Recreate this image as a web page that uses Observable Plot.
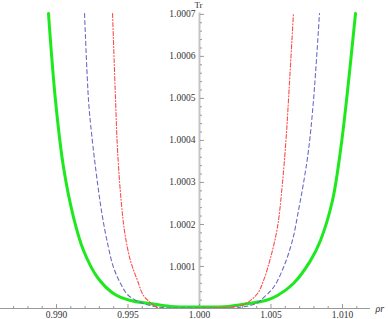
<!DOCTYPE html>
<html>
<head>
<meta charset="utf-8">
<script src="https://cdn.jsdelivr.net/npm/d3@7"></script>
<script src="https://cdn.jsdelivr.net/npm/@observablehq/plot@0.6"></script>
<style>
  html, body { margin: 0; padding: 0; background: white; }
</style>
</head>
<body>
<div id="chart"></div>
<script>
// ---- data ----
const greenRho = [0.98944, 0.98993, 0.99049, 0.99119, 0.99189, 0.99287, 0.99399, 0.99517, 0.99657, 0.99797, 1.0000, 1.00203, 1.00343, 1.00462, 1.00545, 1.00657, 1.00776, 1.00846, 1.00930, 1.00986, 1.01028, 1.01091];
const greenTr  = [1.000702, 1.000495, 1.000336, 1.000217, 1.000138, 1.0000738, 1.0000357, 1.000019, 1.000012, 1.000005, 1.0000035, 1.000005, 1.000012, 1.000019, 1.000031, 1.0000595, 1.000114, 1.000162, 1.000257, 1.000376, 1.000495, 1.000702];

const blueRho = [0.99196, 0.99224, 0.99245, 0.99287, 0.99322, 0.99357, 0.99399, 0.99448, 0.99503, 0.99608, 0.9972, 1.0000, 1.0029, 1.00406, 1.00448, 1.00517, 1.00587, 1.00650, 1.00692, 1.00727, 1.00762, 1.00797, 1.00839];
const blueTr  = [1.000702, 1.000495, 1.000417, 1.000298, 1.000217, 1.000155, 1.0000976, 1.0000595, 1.000031, 1.000012, 1.000003, 1.000001, 1.000003, 1.000014, 1.000026, 1.00005, 1.0000976, 1.000162, 1.000233, 1.000298, 1.000376, 1.000495, 1.000702];

const redRho = [0.99392, 0.99413, 0.99427, 0.99452, 0.99478, 0.99517, 0.99566, 0.99608, 0.99657, 0.99706, 1.0000, 1.00287, 1.00336, 1.00406, 1.00448, 1.00497, 1.00545, 1.00580, 1.00608, 1.00622, 1.00657];
const redTr  = [1.000702, 1.000495, 1.000376, 1.000257, 1.000179, 1.000114, 1.0000667, 1.000031, 1.000014, 1.0000024, 1.0000005, 1.000007, 1.000014, 1.0000357, 1.0000667, 1.000121, 1.000193, 1.000298, 1.000417, 1.000495, 1.000702];

const xMajorTicks = [0.990, 0.995, 1.000, 1.005, 1.010];
const xMinorTicks = [0.987, 0.988, 0.989, 0.991, 0.992, 0.993, 0.994, 0.996, 0.997, 0.998, 0.999, 1.001, 1.002, 1.003, 1.004, 1.006, 1.007, 1.008, 1.009, 1.011];
const yMajorTicks = [1.0001, 1.0002, 1.0003, 1.0004, 1.0005, 1.0006, 1.0007];
const yMinorTicks = [];
for (let i = 1; i <= 35; i++) { if (i % 5 !== 0) yMinorTicks.push(1 + i * 0.00002); }

const xDomain = [0.986084, 1.011958];
const yDomain = [1.0, 1.000733];
const xLabel = "ρr";
const yLabel = "Tr";

// ---- build ----
const toRows = (rho, tr) => rho.map((r, i) => ({rho: r, tr: tr[i]}));
const green = toRows(greenRho, greenTr);
const blue = toRows(blueRho, blueTr);
const red = toRows(redRho, redTr);

const W = 388, H = 319, mL = 0, mR = 18, mT = 0, mB = 11;
const axisX0 = (1.0 - xDomain[0]) / (xDomain[1] - xDomain[0]) * (W - mL - mR);
const font = "'Liberation Serif', 'Times New Roman', serif";
const txt = "#333";

const chart = Plot.plot({
  width: W, height: H,
  marginLeft: mL, marginRight: mR, marginTop: mT, marginBottom: mB,
  style: {background: "white", fontFamily: font, overflow: "visible"},
  x: {domain: xDomain},
  y: {domain: yDomain},
  marks: [
    // axes lines
    Plot.ruleY([1.0], {stroke: "#999", strokeWidth: 1}),
    Plot.ruleX([1.0], {y1: 1.0, y2: 1.000703, stroke: "#c4c4c4", strokeWidth: 2}),
    // x ticks
    Plot.axisX({anchor: "bottom", ticks: xMajorTicks, tickSize: -4, tickFormat: () => "", stroke: "#999", label: null}),
    Plot.axisX({anchor: "bottom", ticks: xMinorTicks, tickSize: -2, tickFormat: () => "", stroke: "#999", label: null}),
    Plot.axisX({anchor: "bottom", ticks: xMajorTicks, tickSize: 0, tickPadding: 3, tickFormat: d3.format(".3f"), fontSize: 9.5, fill: txt, label: null}),
    // y ticks
    Plot.axisY({anchor: "left", dx: axisX0 + 1, ticks: yMajorTicks, tickSize: -4, tickFormat: () => "", stroke: "#999", label: null}),
    Plot.axisY({anchor: "left", dx: axisX0 + 1, ticks: yMinorTicks, tickSize: -2, tickFormat: () => "", stroke: "#999", label: null}),
    Plot.axisY({anchor: "left", dx: axisX0, ticks: yMajorTicks, tickSize: 0, tickPadding: 4, tickFormat: d3.format(".4f"), fontSize: 9.5, fill: txt, label: null}),
    // curves
    Plot.line(green, {x: "rho", y: "tr", stroke: "#1ee81e", strokeWidth: 3, curve: "catmull-rom", clip: true}),
    Plot.line(blue, {x: "rho", y: "tr", stroke: "#6b6bc4", strokeWidth: 1.1, strokeDasharray: "4,3", curve: "catmull-rom", clip: true}),
    Plot.line(red, {x: "rho", y: "tr", stroke: "#ff4a4a", strokeWidth: 1.1, strokeDasharray: "4,2,1,2", curve: "catmull-rom", clip: true}),
    // axis labels
    Plot.text([yLabel], {x: 1.0, frameAnchor: "top", dx: -1, dy: 5, text: d => d, fontSize: 9, fill: txt, lineAnchor: "middle"}),
    Plot.text([xLabel], {x: xDomain[1], y: 1.0, dx: 5, textAnchor: "start", text: d => d, fontSize: 10, fontStyle: "italic", fill: txt, lineAnchor: "middle"})
  ]
});
document.getElementById("chart").appendChild(chart);
</script>
</body>
</html>
